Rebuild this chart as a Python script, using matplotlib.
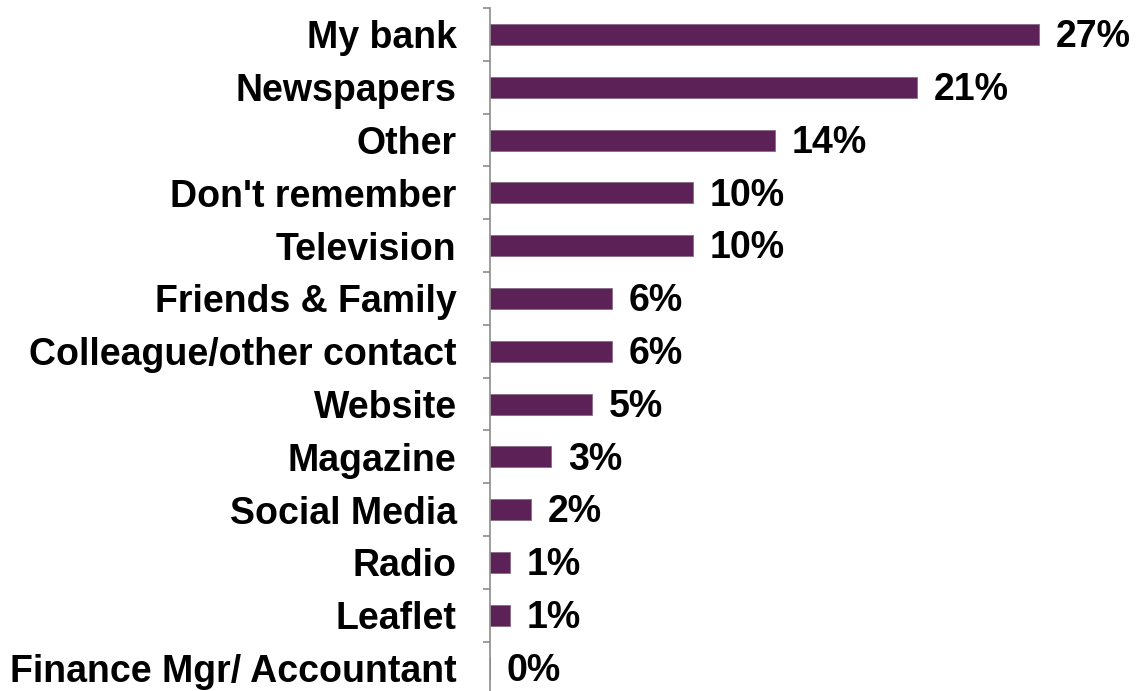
import numpy as np
import matplotlib.pyplot as plt

# Wo haben Sie davon gehört? (Anteile in %)
categories = ['My bank', 'Newspapers', 'Other', "Don't remember", 'Television',
              'Friends & Family', 'Colleague/other contact', 'Website', 'Magazine',
              'Social Media', 'Radio', 'Leaflet', 'Finance Mgr/ Accountant']
values = [27, 21, 14, 10, 10, 6, 6, 5, 3, 2, 1, 1, 0]

bar_color = '#5c2257'
axis_color = '#8c8c8c'

plt.rcParams['font.family'] = ['Liberation Sans', 'DejaVu Sans']
plt.rcParams['font.weight'] = 'bold'

fig = plt.figure(figsize=(11.39, 6.91), dpi=100)
ax = fig.add_axes([0.4302, -0.005, 0.5698, 0.9933])

y = np.arange(len(categories))
ax.barh(y, values, height=0.4, color=bar_color, edgecolor='#8a6a86', linewidth=0.6)

for yi, v in zip(y, values):
    ax.annotate(f'{v}%', (v, yi), xytext=(12, -2), textcoords='offset points',
                ha='left', va='center', fontsize=27, fontweight='bold')

ax.set_xlim(0, 31.9)
ax.set_ylim(len(categories) - 0.5, -0.5)

# Beschriftungen ohne Striche, kleine Striche zwischen den Kategorien
ax.set_yticks(y)
ax.set_yticklabels(categories, fontsize=27, fontweight='bold')
ax.tick_params(axis='y', which='major', length=0, pad=24)
ax.set_yticks(np.arange(-0.5, len(categories), 1.0), minor=True)
ax.tick_params(axis='y', which='minor', length=5, width=1.2, color=axis_color, direction='out')

ax.set_xticks([])
for side in ['top', 'right', 'bottom']:
    ax.spines[side].set_visible(False)
ax.spines['left'].set_color(axis_color)
ax.spines['left'].set_linewidth(1.2)

fig.savefig('out.png', dpi=100)
